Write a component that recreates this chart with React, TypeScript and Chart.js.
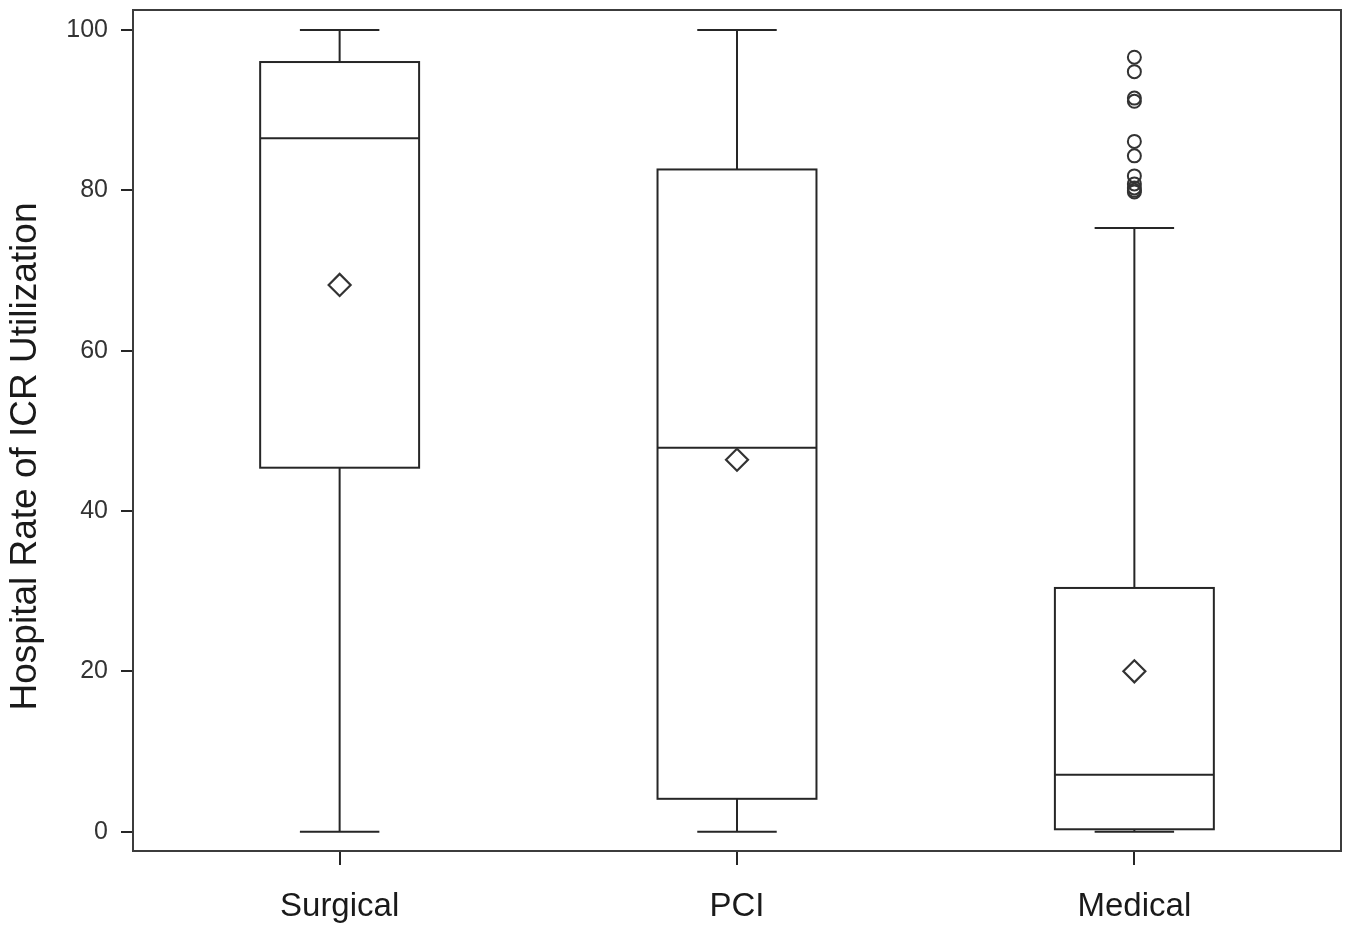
import React, { useEffect, useRef } from "react";
import { Chart, registerables } from "chart.js";

Chart.register(...registerables);

// ---- data ----
const categories = ["Surgical", "PCI", "Medical"];
const whiskerLow = [0, 0, 0];
const q1 = [45.4, 4.1, 0.3];
const median = [86.5, 47.9, 7.1];
const q3 = [96.0, 82.6, 30.4];
const whiskerHigh = [100, 100, 75.3];
const means = [68.2, 46.4, 20.0];
const medicalOutliers = [96.6, 94.8, 91.5, 91.1, 86.1, 84.3, 81.8, 80.8, 80.3, 80.0, 79.8];
const outlierCategory = 2;
const yTickValues = [0, 20, 40, 60, 80, 100];
const yTitle = "Hospital Rate of ICR Utilization";

// ---- style ----
const LINE = "#262626";
const BOX_HALF = 0.2; // in category units
const CAP_HALF = 0.1;

const boxPlugin = {
  id: "boxDraw",
  beforeDatasetsDraw(chart: any) {
    const { ctx, scales } = chart;
    const xs = scales.x;
    const ys = scales.y;
    ctx.save();
    ctx.strokeStyle = LINE;
    ctx.lineWidth = 2;
    for (let i = 0; i < categories.length; i++) {
      const xc = xs.getPixelForValue(i);
      const xl = xs.getPixelForValue(i - BOX_HALF);
      const xr = xs.getPixelForValue(i + BOX_HALF);
      const cl = xs.getPixelForValue(i - CAP_HALF);
      const cr = xs.getPixelForValue(i + CAP_HALF);
      const yLo = ys.getPixelForValue(whiskerLow[i]);
      const yQ1 = ys.getPixelForValue(q1[i]);
      const yMed = ys.getPixelForValue(median[i]);
      const yQ3 = ys.getPixelForValue(q3[i]);
      const yHi = ys.getPixelForValue(whiskerHigh[i]);
      ctx.beginPath();
      ctx.moveTo(xc, yQ3);
      ctx.lineTo(xc, yHi);
      ctx.moveTo(xc, yQ1);
      ctx.lineTo(xc, yLo);
      ctx.moveTo(cl, yHi);
      ctx.lineTo(cr, yHi);
      ctx.moveTo(cl, yLo);
      ctx.lineTo(cr, yLo);
      ctx.stroke();
      ctx.fillStyle = "#ffffff";
      ctx.fillRect(xl, yQ3, xr - xl, yQ1 - yQ3);
      ctx.strokeRect(xl, yQ3, xr - xl, yQ1 - yQ3);
      ctx.beginPath();
      ctx.moveTo(xl, yMed);
      ctx.lineTo(xr, yMed);
      ctx.stroke();
    }
    ctx.restore();
  },
  afterDraw(chart: any) {
    const { ctx, chartArea } = chart;
    ctx.save();
    ctx.strokeStyle = "#3c3c3c";
    ctx.lineWidth = 2;
    ctx.strokeRect(chartArea.left, chartArea.top, chartArea.right - chartArea.left, chartArea.bottom - chartArea.top);
    ctx.fillStyle = "#1a1a1a";
    ctx.font = "37px 'Liberation Sans', Arial, sans-serif";
    ctx.textAlign = "center";
    ctx.textBaseline = "middle";
    ctx.translate(26, 456.5);
    ctx.rotate(-Math.PI / 2);
    ctx.fillText(yTitle, 0, 0);
    ctx.restore();
  },
};

export default function App() {
  const ref = useRef<HTMLCanvasElement | null>(null);
  useEffect(() => {
    if (!ref.current) return;
    const chart = new Chart(ref.current, {
      type: "scatter",
      data: {
        datasets: [
          {
            label: "Mean",
            data: means.map((m, i) => ({ x: i, y: m })),
            pointStyle: "rectRot",
            pointRadius: 11,
            pointBorderWidth: 2.2,
            pointBorderColor: "#333333",
            pointBackgroundColor: "#ffffff",
          },
          {
            label: "Outliers",
            data: medicalOutliers.map((v) => ({ x: outlierCategory, y: v })),
            pointStyle: "circle",
            pointRadius: 6.5,
            pointBorderWidth: 2,
            pointBorderColor: "#333333",
            pointBackgroundColor: "rgba(255,255,255,0)",
          },
        ],
      },
      options: {
        responsive: false,
        animation: false,
        layout: { autoPadding: false, padding: { left: 0, top: 10, right: 8, bottom: 0 } },
        plugins: { legend: { display: false }, tooltip: { enabled: false } },
        scales: {
          x: {
            type: "linear",
            min: -0.52,
            max: 2.52,
            afterBuildTicks: (s: any) => {
              s.ticks = categories.map((_, i) => ({ value: i }));
            },
            afterFit: (s: any) => {
              s.height = 76;
              s.paddingLeft = 0;
              s.paddingRight = 0;
            },
            border: { display: false },
            grid: {
              drawOnChartArea: false,
              drawTicks: true,
              tickLength: 14,
              color: LINE,
              lineWidth: 2,
            },
            ticks: {
              padding: 22,
              color: "#1a1a1a",
              font: { family: "'Liberation Sans', Arial, sans-serif", size: 33 },
              callback: (v: any) => categories[Number(v)] ?? "",
              maxRotation: 0,
              autoSkip: false,
            },
          },
          y: {
            type: "linear",
            min: -2.41,
            max: 102.49,
            afterBuildTicks: (s: any) => {
              s.ticks = yTickValues.map((v) => ({ value: v }));
            },
            afterFit: (s: any) => {
              s.width = 133;
              s.paddingTop = 0;
              s.paddingBottom = 0;
            },
            border: { display: false },
            grid: {
              drawOnChartArea: false,
              drawTicks: true,
              tickLength: 12,
              color: LINE,
              lineWidth: 2,
            },
            ticks: {
              padding: 13,
              color: "#333333",
              font: { family: "'Liberation Sans', Arial, sans-serif", size: 25 },
              callback: (v: any) => String(v),
            },
          },
        },
      },
      plugins: [boxPlugin],
    });
    return () => chart.destroy();
  }, []);
  return (
    <div style={{ position: "absolute", left: 0, top: 0, width: 1349, height: 927, background: "#fff" }}>
      <canvas ref={ref} width={1349} height={927} style={{ width: 1349, height: 927, display: "block" }} />
    </div>
  );
}
